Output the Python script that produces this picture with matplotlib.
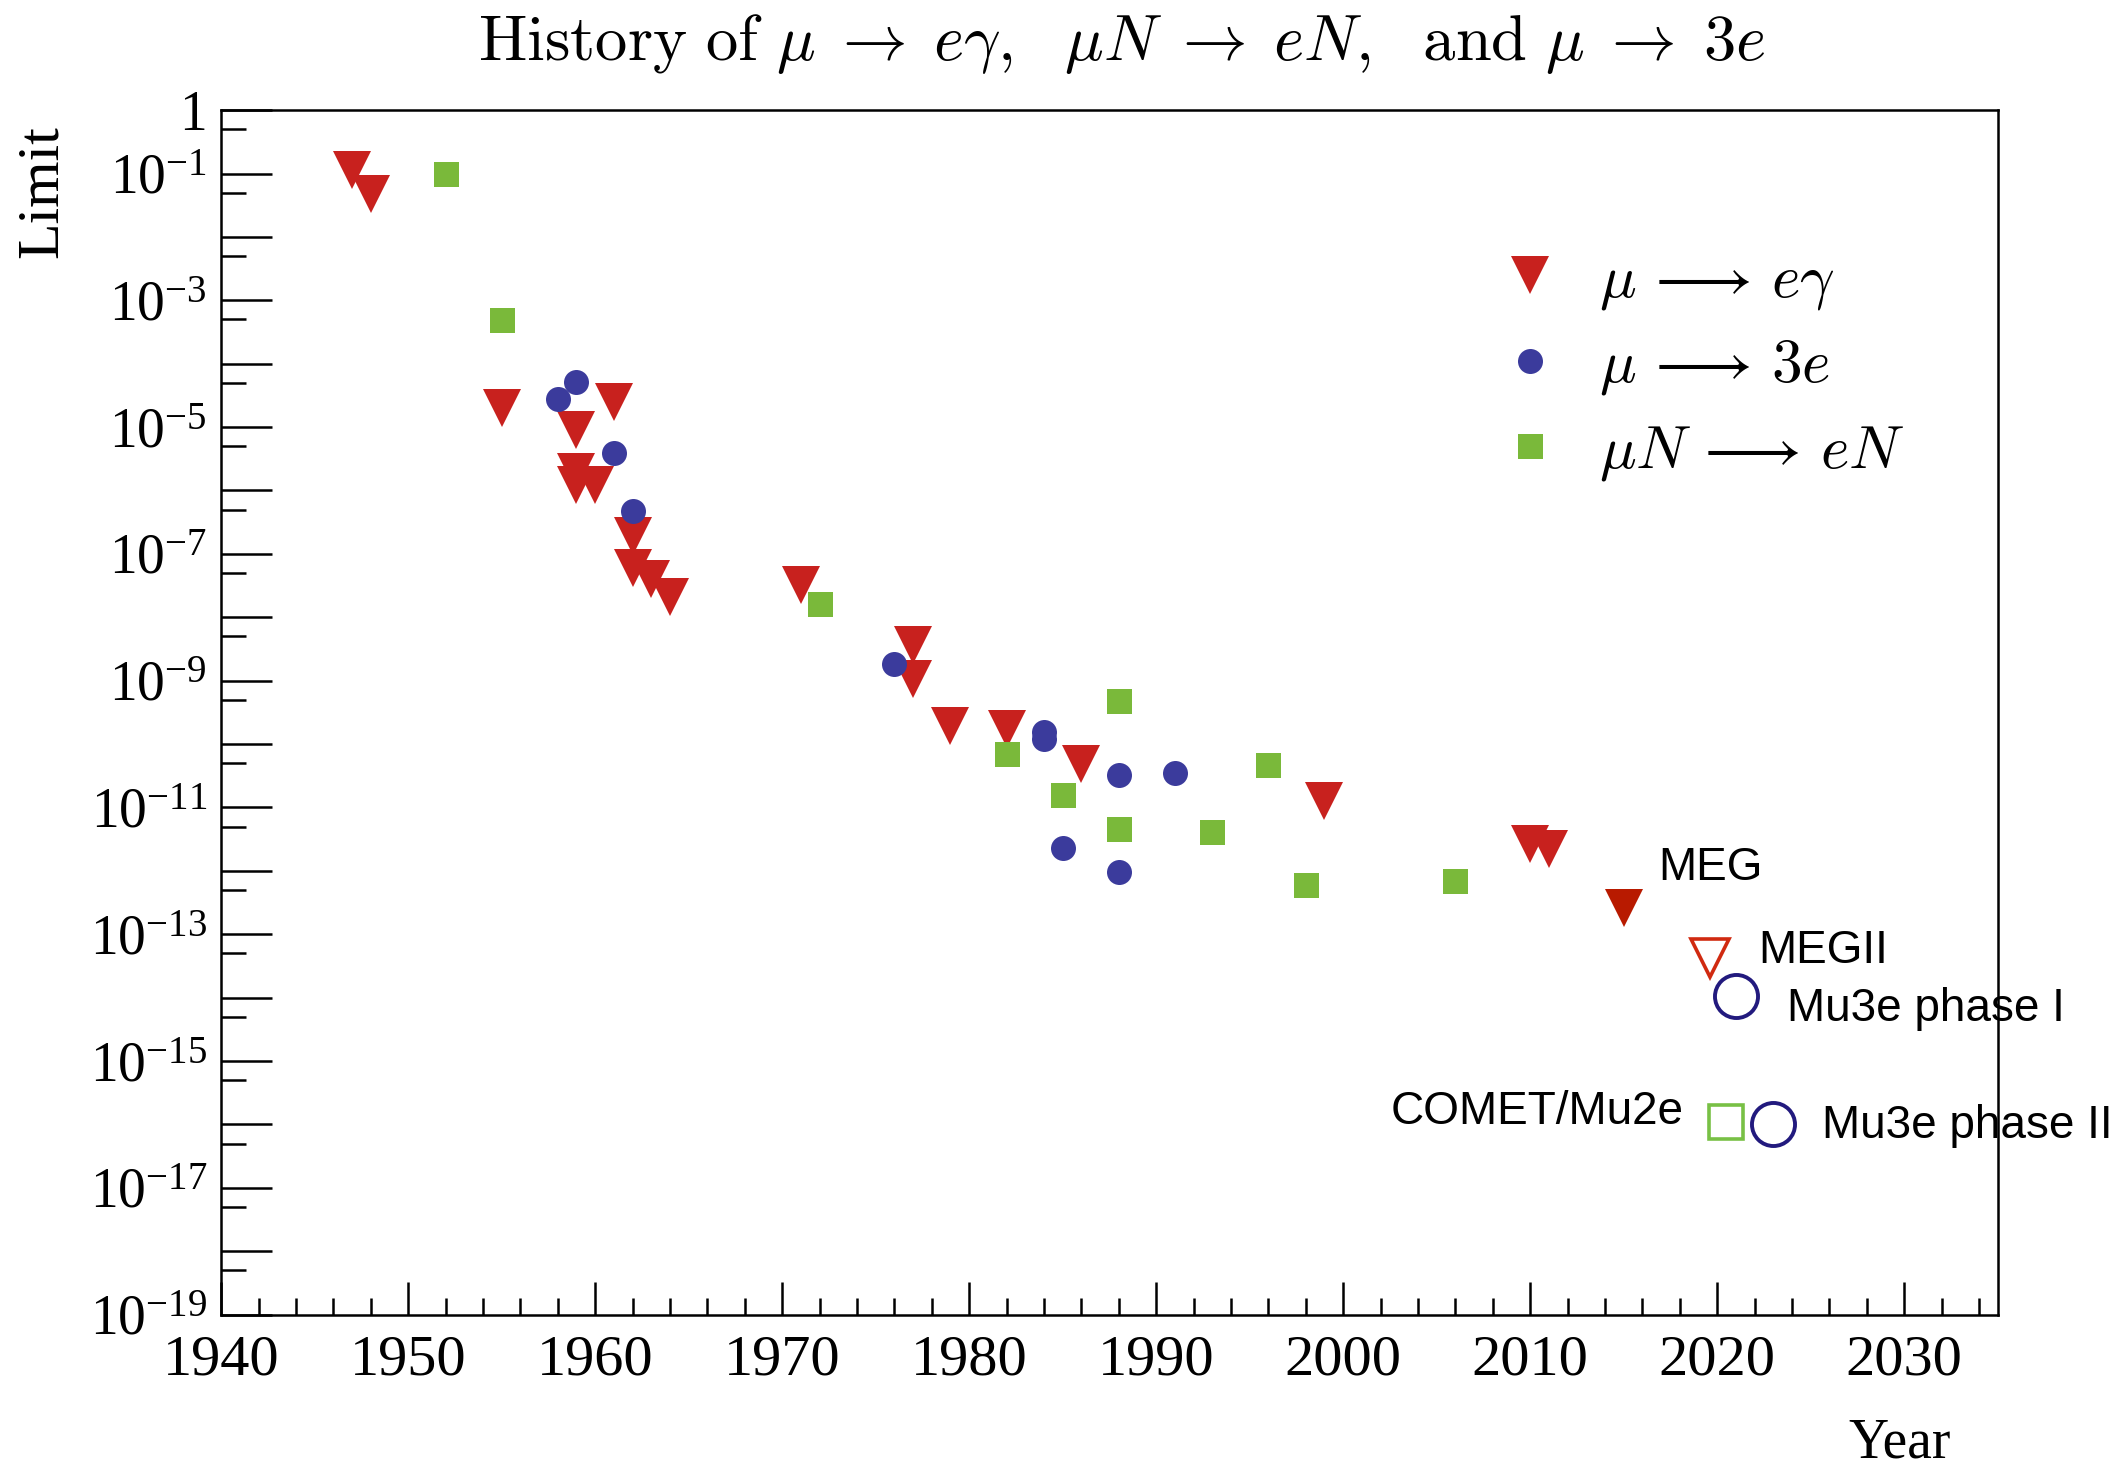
import numpy as np
import matplotlib
matplotlib.use("Agg")
import matplotlib.pyplot as plt
from matplotlib.ticker import FixedLocator, FuncFormatter, NullFormatter

plt.rcParams["font.family"] = ["Liberation Serif", "DejaVu Serif"]
plt.rcParams["mathtext.fontset"] = "stix"

# mu -> e gamma
mueg_year = [1947, 1948, 1955, 1959, 1959, 1959, 1960, 1961, 1962, 1962, 1963,
             1964, 1971, 1977, 1977, 1979, 1982, 1986, 1999, 2010, 2011]
mueg_limit = [1.15e-1, 4.7e-2, 2.0e-5, 8.9e-6, 1.95e-6, 1.2e-6, 1.2e-6, 2.5e-5,
              1.9e-7, 5.9e-8, 4.0e-8, 2.1e-8, 3.2e-8, 3.6e-9, 1.07e-9, 1.9e-10,
              1.7e-10, 4.9e-11, 1.26e-11, 2.7e-12, 2.2e-12]

# mu -> 3e
mu3e_year = [1958, 1959, 1961, 1962, 1976, 1984, 1984, 1985, 1988, 1988, 1991]
mu3e_limit = [2.8e-5, 5.1e-5, 3.9e-6, 4.8e-7, 1.8e-9, 1.55e-10, 1.2e-10,
              2.3e-12, 3.3e-11, 9.5e-13, 3.5e-11]

# mu N -> e N
muconv_year = [1952, 1955, 1972, 1982, 1985, 1988, 1988, 1993, 1996, 1998, 2006]
muconv_limit = [1.0e-1, 4.9e-4, 1.6e-8, 6.9e-11, 1.55e-11, 4.7e-10, 4.5e-12,
                4.1e-12, 4.6e-11, 6.0e-13, 6.9e-13]

# current MEG result and projected sensitivities
meg_year, meg_limit = 2015, 2.6e-13
future_names = ["MEGII", "Mu3e phase I", "COMET/Mu2e", "Mu3e phase II"]
future_year = [2019.6, 2021, 2020.5, 2023]
future_limit = [4.2e-14, 1.05e-14, 1.1e-16, 1.0e-16]

legend_labels = [r"$\mu \,\longrightarrow\, e\gamma$",
                 r"$\mu \,\longrightarrow\, 3e$",
                 r"$\mu N \,\longrightarrow\, eN$"]

RED = "#c8211e"
MEG_RED = "#b81a00"
BLUE = "#3b3b9c"
GREEN = "#7ab93a"
NAVY = "#221a7e"
OPEN_GREEN = "#78c045"

fig = plt.figure(figsize=(21.24, 14.72), dpi=100)
ax = fig.add_axes([0.1041, 0.1069, 0.8364, 0.8183])
ax.set_yscale("log")
ax.set_xlim(1940, 2035)
ax.set_ylim(1e-19, 1)

h1, = ax.plot(mueg_year, mueg_limit, ls="none", marker="v", ms=27, color=RED, mew=0)
h2, = ax.plot(mu3e_year, mu3e_limit, ls="none", marker="o", ms=18, color=BLUE, mew=0)
h3, = ax.plot(muconv_year, muconv_limit, ls="none", marker="s", ms=18, color=GREEN, mew=0)

ax.plot([meg_year], [meg_limit], ls="none", marker="v", ms=28, color=MEG_RED, mew=0)
ax.plot([future_year[0]], [future_limit[0]], ls="none", marker="v", ms=27,
        mfc="none", mec="#d02a10", mew=2.6)
ax.plot([future_year[1], future_year[3]], [future_limit[1], future_limit[3]],
        ls="none", marker="o", ms=31, mfc="none", mec=NAVY, mew=2.8)
ax.plot([future_year[2]], [future_limit[2]], ls="none", marker="s", ms=24.5,
        mfc="none", mec=OPEN_GREEN, mew=2.6)

# labels next to the projected points (offsets in points)
label_font = dict(family=["Liberation Sans", "DejaVu Sans"], fontsize=33)
ax.annotate("MEG", (meg_year, meg_limit), xytext=(25, 29), textcoords="offset points",
            ha="left", va="center", annotation_clip=False, zorder=1, **label_font)
offsets = [(35, 5), (37, -9), (-31, 7), (35, -1)]
aligns = ["left", "left", "right", "left"]
for name, xv, yv, off, ha in zip(future_names, future_year, future_limit, offsets, aligns):
    ax.annotate(name, (xv, yv), xytext=off, textcoords="offset points",
                ha=ha, va="center", annotation_clip=False, zorder=1, **label_font)

# axes in ROOT style
for sp in ax.spines.values():
    sp.set_linewidth(1.8)
    sp.set_zorder(5)

ax.xaxis.set_major_locator(FixedLocator(np.arange(1940, 2031, 10)))
ax.xaxis.set_minor_locator(FixedLocator(np.arange(1940, 2035, 2)))
ax.yaxis.set_major_locator(FixedLocator(10.0 ** np.arange(-19, 1)))
ax.yaxis.set_minor_locator(FixedLocator(5 * 10.0 ** np.arange(-19, 0)))


def log_label(v, pos):
    e = int(round(np.log10(v)))
    if e == 0:
        return "1"
    if e % 2 == 0:
        return ""
    return r"$\mathregular{10^{%d}}$" % e


ax.yaxis.set_major_formatter(FuncFormatter(log_label))
ax.yaxis.set_minor_formatter(NullFormatter())
ax.tick_params(which="both", direction="in", top=False, right=False, width=1.8)
ax.tick_params(axis="x", which="major", length=24, pad=14, labelsize=42)
ax.tick_params(axis="x", which="minor", length=12)
ax.tick_params(axis="y", which="major", length=37, pad=10, labelsize=40)
ax.tick_params(axis="y", which="minor", length=18)

fig.text(0.0202, 0.870, "Limit", rotation=90, ha="center", va="center", fontsize=43)
fig.text(0.9185, 0.002, "Year", ha="right", va="bottom", fontsize=40)

fig.text(0.528, 0.970,
         r"$\mathrm{History\ of}\ \mu \;\rightarrow\; e\gamma,\ \ \mu N \;\rightarrow\; eN,"
         r"\ \ \mathrm{and}\ \mu \;\rightarrow\; 3e$",
         ha="center", va="center", fontsize=46.5, math_fontfamily="cm")

ax.legend([h1, h2, h3], legend_labels, loc="upper left", bbox_to_anchor=(0.7025, 0.906),
          frameon=False, borderpad=0, handlelength=1.0, handletextpad=0.62,
          labelspacing=0.43, prop=dict(size=44, math_fontfamily="cm"))

fig.savefig("out.png", dpi=100)
